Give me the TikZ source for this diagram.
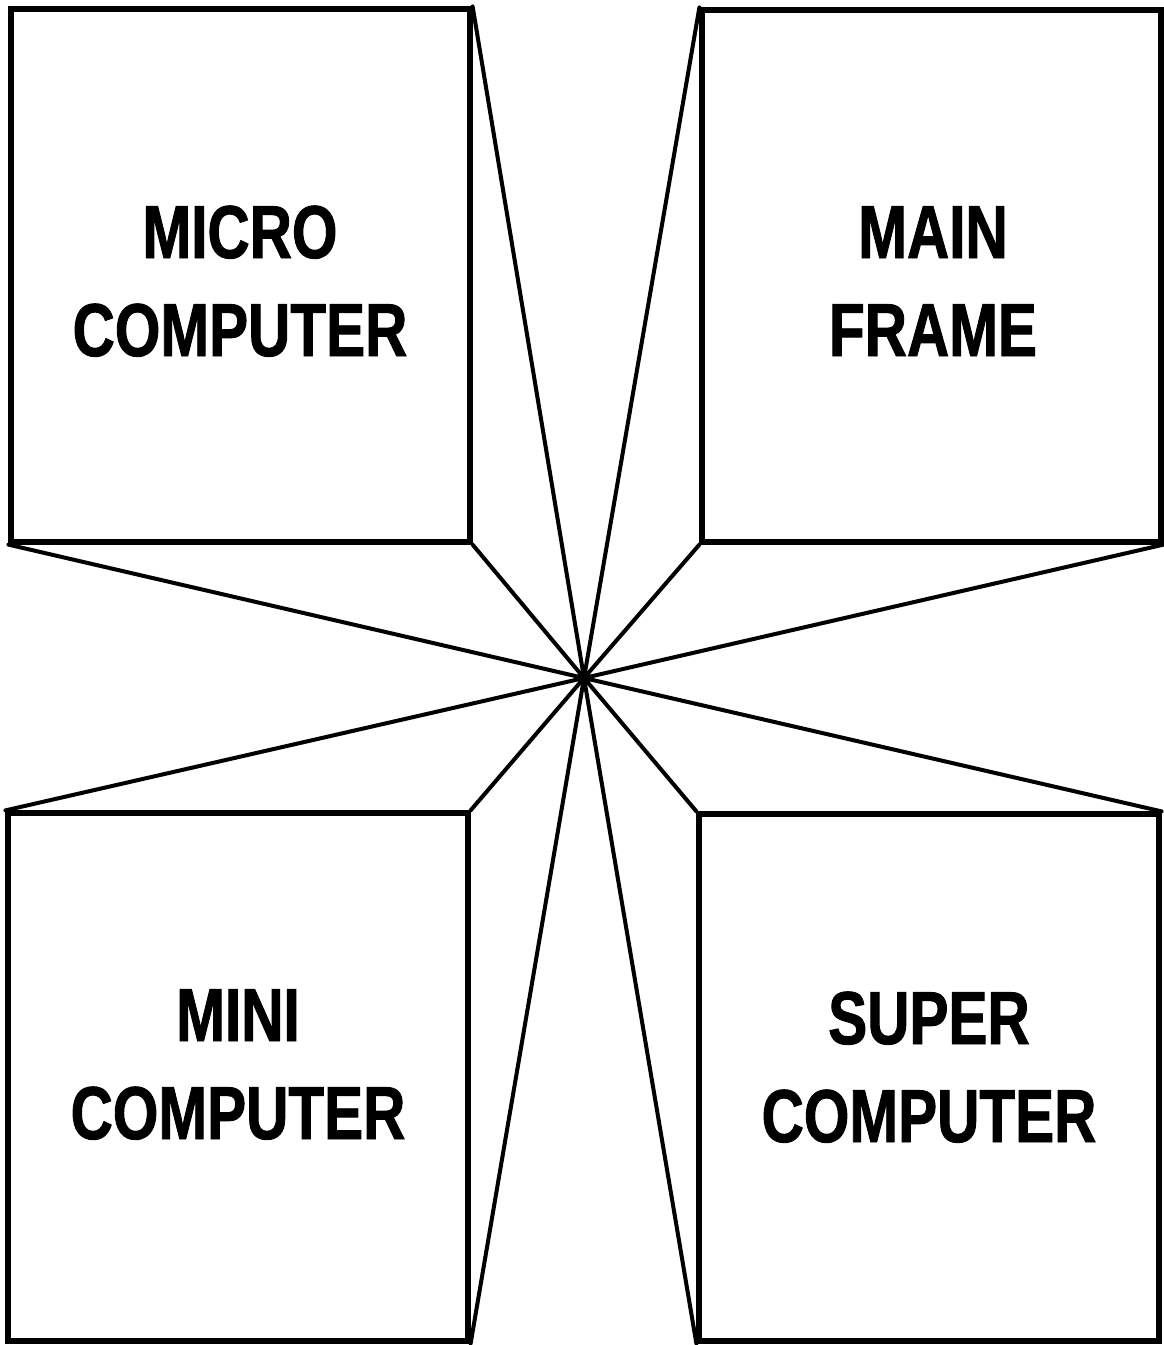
\documentclass[tikz,border=0pt]{standalone}
\usepackage{fontspec}
\newfontfamily\lab{Liberation Sans}[FakeStretch=0.78,FakeBold=1.2]
\begin{document}
\begin{tikzpicture}[x=1pt,y=-1pt,
  box/.style={draw=black,line width=5.2pt,fill=none,inner sep=0pt},
  ray/.style={draw=black,line width=4pt,line cap=round},
  lbl/.style={anchor=base,align=center,inner sep=0pt,font=\lab\bfseries\fontsize{75}{98}\selectfont}]
\useasboundingbox (0,0) rectangle (1164,1345);
\fill[white] (0,0) rectangle (1164,1345);
% boxes
\node[box,minimum width=459pt,minimum height=533pt] (tl) at (240.5,275.5) {};
\node[box,minimum width=459pt,minimum height=532pt] (tr) at (931.5,276) {};
\node[box,minimum width=460pt,minimum height=528pt] (bl) at (238,1077) {};
\node[box,minimum width=460pt,minimum height=527pt] (br) at (929,1077.5) {};
\coordinate (c) at (584,678);
% rays
\draw[ray] (tl.north east) -- (c);
\draw[ray] (tl.south west) -- (c);
\draw[ray] (tl.south east) -- (c);
\draw[ray] (tr.north west) -- (c);
\draw[ray] (tr.south west) -- (c);
\draw[ray] (tr.south east) -- (c);
\draw[ray] (bl.north west) -- (c);
\draw[ray] (bl.north east) -- (c);
\draw[ray] (bl.south east) -- (c);
\draw[ray] (br.north west) -- (c);
\draw[ray] (br.north east) -- (c);
\draw[ray] (br.south west) -- (c);
\fill[black] (c) circle (7pt);
% labels
\node[lbl] (t1) at (240,356) {MICRO\\COMPUTER};
\node[lbl] (t2) at (933,356) {MAIN\\FRAME};
\node[lbl] (t3) at (238,1139) {MINI\\COMPUTER};
\node[lbl] (t4) at (929,1142) {SUPER\\COMPUTER};
\end{tikzpicture}
\end{document}
